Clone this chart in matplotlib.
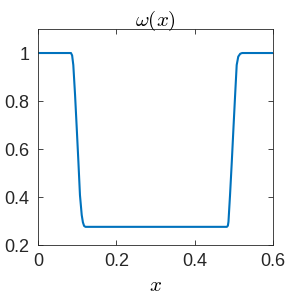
import matplotlib
matplotlib.use("Agg")
import matplotlib.pyplot as plt
from matplotlib.ticker import FuncFormatter

# Curve
x_vals = [0.0, 0.084, 0.087, 0.090, 0.0945, 0.0988, 0.103, 0.107, 0.1115, 0.1145,
          0.1175, 0.121, 0.482, 0.4845, 0.486, 0.490, 0.4945, 0.4987, 0.503, 0.507,
          0.511, 0.516, 0.521, 0.6]
w_vals = [1.0, 1.0, 0.99, 0.95, 0.825, 0.686, 0.547, 0.408, 0.325, 0.295,
          0.280, 0.276, 0.276, 0.281, 0.297, 0.408, 0.547, 0.686, 0.825, 0.95,
          0.985, 0.997, 1.0, 1.0]

x_ticks = [0, 0.2, 0.4, 0.6]
y_ticks = [0.2, 0.4, 0.6, 0.8, 1.0]

plt.rcParams["font.family"] = ["Liberation Sans", "DejaVu Sans"]
plt.rcParams["mathtext.fontset"] = "cm"

dark = (0.15, 0.15, 0.15)

fig = plt.figure(figsize=(2.86, 2.96), dpi=100)
ax = fig.add_axes([0.133, 0.172, 0.822, 0.730])
ax.plot(x_vals, w_vals, color="#0072BD", linewidth=1.5)

ax.set_xlim(0, 0.6)
ax.set_ylim(0.2, 1.1)
ax.set_xticks(x_ticks)
ax.set_yticks(y_ticks)
ax.xaxis.set_major_formatter(FuncFormatter(lambda v, p: f"{v:g}"))
ax.yaxis.set_major_formatter(FuncFormatter(lambda v, p: f"{v:g}"))
ax.tick_params(direction="in", top=True, right=True, length=3.5, width=0.6,
               labelsize=13, colors=dark, pad=6)
for s in ax.spines.values():
    s.set_linewidth(0.6)
    s.set_color(dark)

ax.set_title(r"$\omega(x)$", fontsize=15, pad=2)
ax.set_xlabel(r"$x$", fontsize=15, labelpad=4)

fig.savefig("out.png", dpi=100)
